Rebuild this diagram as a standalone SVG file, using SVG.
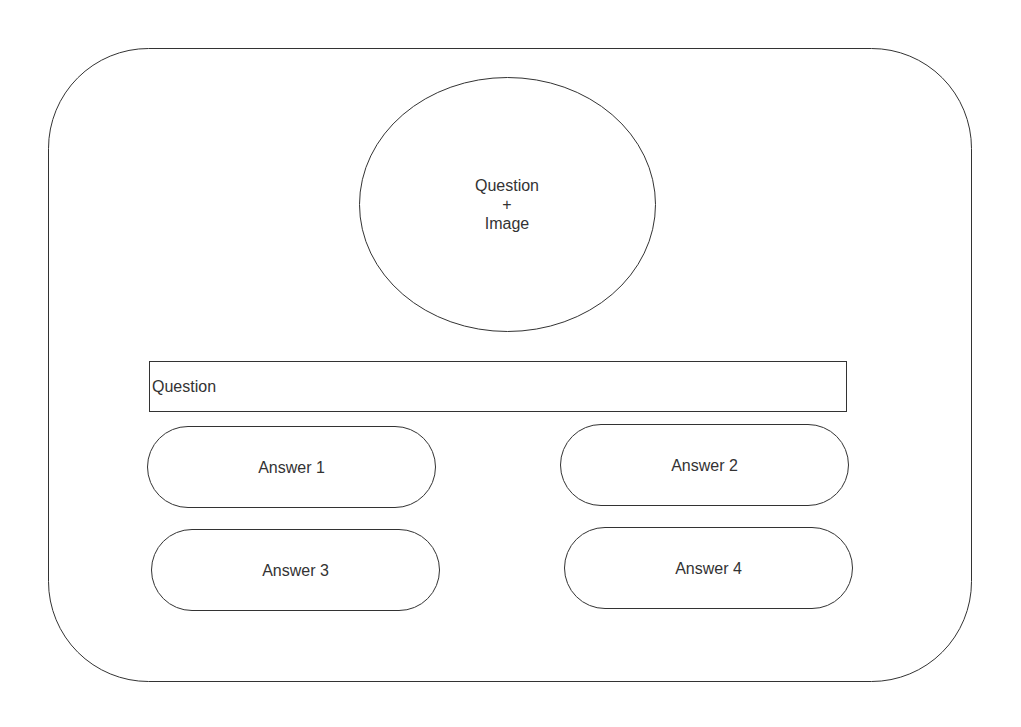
<svg xmlns="http://www.w3.org/2000/svg" width="1021" height="727" viewBox="0 0 1021 727">
<style>
.s{fill:#fff;stroke:#333;stroke-width:1}
.t{font-family:"Liberation Sans",Arial,sans-serif;font-size:16px;fill:#333;text-anchor:middle}
</style>
<rect width="1021" height="727" fill="#fff"/>
<g id="frame"><rect class="s" x="48.5" y="48.5" width="923" height="633" rx="100" ry="100"/></g>
<g id="image"><ellipse class="s" cx="507.5" cy="204.5" rx="148" ry="127"/>
<text class="t" x="507" y="191">Question</text><text class="t" x="507" y="210">+</text><text class="t" x="507" y="229">Image</text></g>
<g id="question"><rect class="s" x="149.5" y="361.5" width="697" height="50"/>
<text class="t" x="152" y="392" style="text-anchor:start">Question</text></g>
<g id="answer1"><rect class="s" x="147.5" y="426.5" width="288" height="81" rx="40.5"/><text class="t" x="291.5" y="473">Answer 1</text></g>
<g id="answer2"><rect class="s" x="560.5" y="424.5" width="288" height="81" rx="40.5"/><text class="t" x="704.5" y="471">Answer 2</text></g>
<g id="answer3"><rect class="s" x="151.5" y="529.5" width="288" height="81" rx="40.5"/><text class="t" x="295.5" y="576">Answer 3</text></g>
<g id="answer4"><rect class="s" x="564.5" y="527.5" width="288" height="81" rx="40.5"/><text class="t" x="708.5" y="574">Answer 4</text></g>
<g id="connectors"></g>
</svg>
